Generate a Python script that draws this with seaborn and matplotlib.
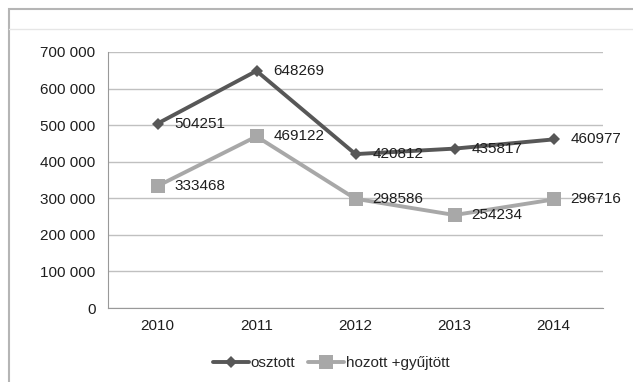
import matplotlib
matplotlib.use("Agg")
import matplotlib.pyplot as plt
import seaborn as sns
import pandas as pd
from matplotlib.lines import Line2D
from matplotlib.patches import Rectangle

years = ["2010", "2011", "2012", "2013", "2014"]
osztott = [504251, 648269, 420812, 435817, 460977]
hozott = [333468, 469122, 298586, 254234, 296716]
series_names = ["osztott", "hozott +gyűjtött"]
y_ticks = [0, 100000, 200000, 300000, 400000, 500000, 600000, 700000]

df = pd.DataFrame({"year": years * 2,
                   "value": osztott + hozott,
                   "series": [series_names[0]] * 5 + [series_names[1]] * 5})

sns.set_style("white")
plt.rcParams["font.family"] = ["Liberation Sans", "DejaVu Sans"]

fig = plt.figure(figsize=(6.33, 3.82), dpi=100)
ax = fig.add_axes([108 / 633, 1 - 308 / 382, (603 - 108) / 633, (308 - 52) / 382])

colors = {series_names[0]: "#575757", series_names[1]: "#a8a8a8"}
markers = {series_names[0]: "D", series_names[1]: "s"}
sizes = {series_names[0]: 6.5, series_names[1]: 10}

for name in series_names:
    sub = df[df.series == name]
    x = list(range(len(sub)))
    sns.lineplot(x=x, y=sub.value.values, ax=ax, color=colors[name], lw=2.8,
                 marker=markers[name], markersize=sizes[name], markeredgewidth=0,
                 legend=False, zorder=3 if name == series_names[0] else 2)
    for xi, v in zip(x, sub.value.values):
        ax.text(xi + 0.17, v, str(v), fontsize=11, va="center", ha="left",
                color="#1e1e1e", zorder=4)

ax.set_xlim(-0.5, 4.5)
ax.set_ylim(0, 700000)
ax.set_yticks(y_ticks)
ax.set_yticklabels(["0" if t == 0 else f"{t // 1000} 000" for t in y_ticks],
                   fontsize=11, color="#1e1e1e")
ax.set_xticks(range(5))
ax.set_xticklabels(years, fontsize=11, color="#1e1e1e")
ax.set_xticks([i - 0.5 for i in range(6)], minor=True)
ax.tick_params(axis="x", which="major", length=0, pad=8)
ax.tick_params(axis="x", which="minor", length=4, color="#999999", direction="out")
ax.tick_params(axis="y", length=4, color="#999999", direction="out", pad=5)
ax.grid(axis="y", color="#c0c0c0", lw=1)
ax.set_axisbelow(True)
for s in ["top", "right"]:
    ax.spines[s].set_visible(False)
ax.spines["left"].set_color("#999999")
ax.spines["bottom"].set_color("#999999")

handles = [Line2D([], [], color=colors[n], lw=2.8, marker=markers[n],
                  markersize=sizes[n], markeredgewidth=0) for n in series_names]
fig.legend(handles, series_names, loc="center", bbox_to_anchor=(331 / 633, 1 - 363 / 382),
           ncol=2, frameon=False, fontsize=11, handlelength=2.4, handletextpad=0.1,
           columnspacing=0.8)

# outer frame of the chart box
fig.patches.append(Rectangle((9 / 633, -0.1), 1.1, 1 - 9 / 382 + 0.1,
                             transform=fig.transFigure, fill=False,
                             edgecolor="#b5b5b5", lw=1.5))
fig.lines.append(Line2D([9 / 633, 1], [1 - 29 / 382] * 2, transform=fig.transFigure,
                        color="#e6e6e6", lw=1))

fig.savefig("out.png", dpi=100)
